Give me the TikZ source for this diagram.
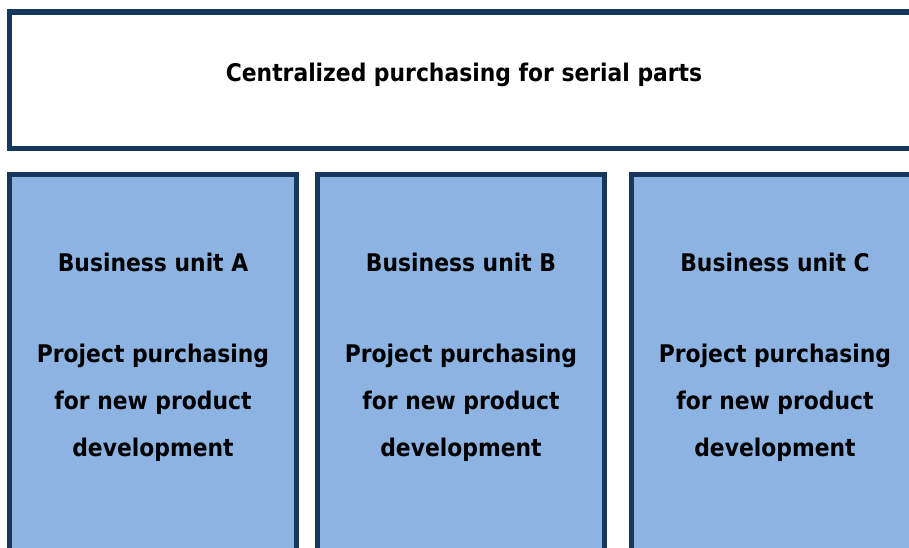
\documentclass[tikz,border=0pt]{standalone}
\usepackage{fontspec}
\setmainfont{DejaVu Sans Condensed}
\usepackage{tikz}
\usetikzlibrary{positioning}

\definecolor{navy}{RGB}{23,55,94}
\definecolor{unitblue}{RGB}{141,179,226}

\tikzset{
	orgbox/.style={rectangle,draw=navy,line width=5.5pt,inner sep=0pt},
	serialbox/.style={orgbox,fill=white,minimum width=925pt,minimum height=136.5pt},
	unitbox/.style={orgbox,fill=unitblue,minimum width=287pt,minimum height=394pt},
	boxtext/.style={font=\bfseries\fontsize{24.3}{47}\selectfont,align=center,inner sep=0pt}
}

\begin{document}
\begin{tikzpicture}[x=1pt,y=1pt]
	\useasboundingbox (0,0) rectangle (909,548);
	\clip (0,0) rectangle (909,548);
	
	% serial parts on top
	\node[serialbox] (serial) at (472,467.75) {};
	\node[boxtext] (serialtext) at (464,473) {Centralized purchasing for serial parts};
	
	% one column per business unit
	\foreach \u/\x in {A/153,B/461,C/775} {
		\node[unitbox] (box\u) at (\x,176.5) {};
		\node[boxtext] (unit\u) at (\x,286) {Business unit \u};
		\node[boxtext] (proj\u) at (\x,145) {Project purchasing\\for new product\\development};
	}
	
\end{tikzpicture}
\end{document}
